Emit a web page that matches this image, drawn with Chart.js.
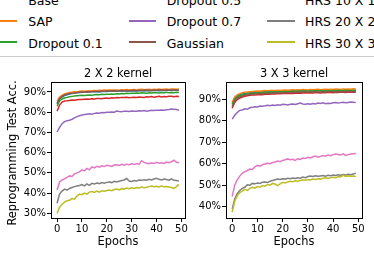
<!DOCTYPE html>
<html>
<head>
<meta charset="utf-8">
<script src="https://cdn.jsdelivr.net/npm/chart.js@4.4.1/dist/chart.umd.min.js"></script>
<style>
  html, body { margin: 0; padding: 0; background: #fff; }
  body { width: 374px; height: 257px; position: relative; overflow: hidden; font-family: "DejaVu Sans", sans-serif; }
  #legend { position: absolute; left: -8px; top: -20px; width: 400px; height: 75px; border: 1px solid #cccccc; border-radius: 3px; background: #fff; }
  .sw { position: absolute; height: 2px; }
  .lt { position: absolute; font-size: 12.5px; line-height: normal; color: #000; white-space: nowrap; }
  canvas { position: absolute; }
</style>
</head>
<body>
<div id="legend"></div>
<canvas id="c1" width="190" height="197" style="left:0px;top:60px;width:190px;height:197px"></canvas>
<canvas id="c2" width="184" height="197" style="left:190px;top:60px;width:184px;height:197px"></canvas>
<script>
// ---------------- data ----------------
const seriesNames = ["Base", "SAP", "Dropout 0.1", "Dropout 0.5", "Dropout 0.7", "Gaussian", "HRS 10 X 10", "HRS 20 X 20", "HRS 30 X 30"];
const seriesColors = ["#1f77b4", "#ff7f0e", "#2ca02c", "#d62728", "#9467bd", "#8c564b", "#e377c2", "#7f7f7f", "#bcbd22"];
const xTicks = [0, 10, 20, 30, 40, 50];
const yTicks2x2 = [30, 40, 50, 60, 70, 80, 90];
const yTicks3x3 = [40, 50, 60, 70, 80, 90];
const titles = ["2 X 2 kernel", "3 X 3 kernel"];
const xTitle = "Epochs";
const yTitle = "Reprogramming Test Acc.";

// 2 X 2 kernel
const k2_base = [84.0,86.5,87.5,88.2,88.6,89.0,89.2,89.4,89.6,89.7,89.8,89.9,90.0,89.9,90.1,90.1,90.2,90.0,90.2,90.3,90.2,90.3,90.4,90.3,90.4,90.5,90.4,90.5,90.6,90.4,90.5,90.6,90.5,90.6,90.7,90.5,90.6,90.7,90.6,90.8,90.7,90.6,90.8,90.7,90.8,90.9,90.7,90.8,90.9,90.8];
const k2_sap = [85.5,87.5,88.4,89.0,89.4,89.7,89.9,90.1,90.0,90.3,90.4,90.3,90.5,90.6,90.5,90.7,90.6,90.8,90.7,90.9,90.8,90.9,91.0,90.9,91.0,90.8,91.1,91.0,91.2,91.0,91.1,91.2,91.0,91.2,91.3,91.1,91.2,91.3,91.1,91.3,91.2,91.4,91.2,91.3,91.4,91.2,91.4,91.5,91.3,91.4];
const k2_do1 = [83.0,85.5,86.5,87.0,87.3,87.6,87.8,88.0,88.1,88.2,88.3,88.2,88.4,88.5,88.4,88.6,88.7,88.6,88.8,88.7,88.9,88.8,89.0,88.9,89.1,89.0,89.2,89.1,89.3,89.2,89.4,89.3,89.5,89.4,89.6,89.5,89.4,89.6,89.5,89.7,89.6,89.5,89.7,89.6,89.8,89.6,89.7,89.6,89.8,89.7];
const k2_do5 = [80.5,83.5,85.0,85.5,85.6,85.8,86.0,85.9,86.1,86.3,86.2,86.4,86.5,86.4,86.6,86.5,86.7,86.8,86.6,86.9,87.0,86.8,87.1,87.0,87.2,87.1,87.3,87.2,87.4,87.1,87.3,87.4,87.2,87.5,87.4,87.3,87.6,87.5,87.7,87.4,87.6,87.8,87.5,87.7,87.6,87.9,87.8,87.6,87.8,87.7];
const k2_do7 = [70.2,72.5,74.3,75.3,75.8,76.0,76.5,77.2,77.8,78.2,78.6,78.8,79.0,79.2,79.0,79.4,79.6,79.5,79.8,79.7,80.0,79.9,80.1,80.0,80.6,80.3,80.2,80.5,80.4,80.3,80.6,80.5,80.4,80.7,80.6,80.8,80.5,80.7,80.9,80.8,81.0,80.9,81.1,81.0,81.2,81.3,81.5,81.4,81.3,80.9];
const k2_gauss = [84.5,86.8,87.8,88.5,88.9,89.2,89.4,89.5,89.7,89.8,89.9,90.0,90.1,90.0,90.2,90.2,90.3,90.2,90.4,90.3,90.5,90.4,90.5,90.6,90.5,90.6,90.7,90.6,90.7,90.6,90.7,90.8,90.6,90.8,90.7,90.8,90.9,90.7,90.8,90.9,90.8,90.9,91.0,90.8,90.9,91.0,90.9,91.0,90.9,91.0];
const k2_hrs10 = [41.5,45.5,46.5,47.0,47.8,48.5,48.2,49.5,50.0,50.5,51.5,51.0,52.2,51.5,53.0,52.5,53.2,52.8,53.5,53.2,53.8,53.5,53.2,53.9,54.0,53.7,54.2,53.8,54.3,54.0,54.5,54.1,54.6,54.3,56.0,55.2,54.8,54.5,55.0,54.6,55.2,54.8,55.0,54.7,55.3,55.0,55.5,56.3,55.2,55.0];
const k2_hrs20 = [35.0,39.5,41.0,42.0,41.5,42.3,42.8,43.2,43.5,43.8,44.2,43.6,44.5,43.8,44.8,44.5,45.0,44.7,45.2,44.9,45.3,45.5,45.2,45.8,45.5,45.9,46.2,46.5,47.2,46.0,45.8,46.2,46.0,46.5,46.3,46.6,46.4,46.8,46.5,47.0,47.3,46.8,46.5,47.0,46.7,46.4,47.0,46.3,46.2,46.0];
const k2_hrs30 = [30.0,33.0,34.5,35.5,36.2,36.5,37.3,37.0,38.5,39.5,39.2,40.0,39.5,40.5,40.8,40.3,41.0,40.5,41.2,40.9,41.3,41.5,41.2,41.8,42.0,41.6,42.2,41.9,42.5,42.2,42.6,42.3,42.8,42.5,43.0,42.7,42.9,43.2,43.5,43.1,43.4,43.0,43.5,43.2,43.3,43.0,42.8,42.3,43.2,44.3];

// 3 X 3 kernel
const k3_base = [88.0,90.5,91.5,92.0,92.4,92.7,92.8,93.0,93.1,93.2,93.3,93.2,93.4,93.5,93.4,93.5,93.6,93.5,93.7,93.6,93.7,93.8,93.7,93.8,93.9,93.8,93.9,93.8,94.0,93.9,93.8,94.0,93.9,94.0,94.1,93.9,94.0,94.1,94.0,94.1,94.0,94.2,94.1,94.0,94.2,94.1,94.2,94.1,94.2,94.1];
const k3_sap = [88.5,91.0,92.0,92.6,93.0,93.2,93.4,93.5,93.6,93.7,93.8,93.7,93.9,94.0,93.9,94.0,94.1,94.0,94.2,94.1,94.2,94.3,94.2,94.3,94.4,94.3,94.4,94.3,94.5,94.4,94.3,94.5,94.4,94.5,94.6,94.4,94.5,94.6,94.5,94.6,94.5,94.7,94.6,94.5,94.7,94.6,94.7,94.6,94.8,94.7];
const k3_do1 = [87.5,90.0,91.0,91.6,92.0,92.3,92.5,92.6,92.8,92.9,93.0,93.1,93.0,93.2,93.3,93.2,93.4,93.3,93.5,93.4,93.5,93.6,93.5,93.6,93.7,93.6,93.7,93.8,93.7,93.8,93.7,93.9,93.8,93.9,93.8,94.0,93.9,93.8,94.0,93.9,94.0,93.9,94.1,94.0,93.9,94.1,94.0,94.1,94.0,94.1];
const k3_do5 = [85.8,88.5,89.8,90.5,91.0,91.3,91.6,91.8,91.9,92.0,92.1,92.2,92.1,92.3,92.4,92.3,92.5,92.4,92.6,92.5,92.6,92.7,92.6,92.8,92.7,92.8,92.9,92.8,92.9,93.0,92.9,93.0,92.9,93.1,93.0,92.9,93.1,93.0,93.2,93.1,93.0,93.2,93.1,93.3,93.2,93.1,93.3,93.2,93.3,93.2];
const k3_do7 = [80.7,82.5,83.8,84.8,85.0,85.5,85.3,86.0,86.2,86.5,86.4,86.8,86.7,86.9,87.2,87.0,87.3,87.1,87.4,87.2,87.6,87.5,87.3,87.6,87.8,87.5,87.9,88.2,87.8,87.6,87.9,87.7,88.0,87.8,88.2,88.0,88.3,87.9,88.1,88.0,88.3,88.5,88.2,88.4,88.6,88.3,88.5,88.7,88.6,88.4];
const k3_gauss = [86.5,89.2,90.4,91.0,91.5,91.8,92.0,92.2,92.3,92.4,92.5,92.6,92.5,92.7,92.8,92.7,92.9,92.8,93.0,92.9,93.0,93.1,93.0,93.2,93.1,93.2,93.3,93.2,93.3,93.4,93.3,93.4,93.3,93.5,93.4,93.3,93.5,93.4,93.5,93.6,93.5,93.4,93.6,93.5,93.6,93.5,93.7,93.6,93.5,93.6];
const k3_hrs10 = [44.7,50.0,52.5,54.2,55.5,56.3,56.8,57.5,57.3,58.5,59.2,58.8,59.5,59.8,60.2,60.0,60.5,60.8,61.2,60.9,61.5,61.8,62.2,61.8,62.0,61.5,62.3,62.0,62.6,62.4,63.0,62.7,63.2,63.5,63.0,63.4,63.8,63.5,64.0,63.7,64.2,64.5,64.3,64.0,64.6,63.8,64.2,64.5,64.6,64.7];
const k3_hrs20 = [38.8,43.5,46.0,47.5,48.5,49.0,50.2,50.0,50.8,50.6,51.0,50.8,51.3,51.5,51.2,51.8,52.2,52.5,52.8,52.6,53.0,52.8,53.2,53.0,53.3,53.1,53.4,53.2,53.8,53.5,54.0,54.2,54.0,54.4,54.1,54.3,54.5,54.2,54.6,54.4,54.7,54.5,54.8,54.6,54.9,54.7,55.0,54.8,55.2,55.6];
const k3_hrs30 = [37.4,42.5,45.0,46.5,47.2,48.0,47.5,48.5,49.0,48.6,49.3,49.0,49.8,49.5,50.3,50.0,50.8,50.5,49.8,50.6,51.3,51.0,51.5,51.8,51.6,52.0,51.8,52.2,52.5,52.3,52.6,52.4,52.8,52.6,53.0,52.8,53.2,53.4,53.1,53.5,53.7,53.4,54.0,53.8,54.6,54.0,54.3,54.1,54.2,54.0];

const k2Series = [k2_base, k2_sap, k2_do1, k2_do5, k2_do7, k2_gauss, k2_hrs10, k2_hrs20, k2_hrs30];
const k3Series = [k3_base, k3_sap, k3_do1, k3_do5, k3_do7, k3_gauss, k3_hrs10, k3_hrs20, k3_hrs30];

// ---------------- legend (HTML) ----------------
(function buildLegend() {
  const lg = document.getElementById('legend');
  const colX = [[-10, 17, 28.3], [129.3, 156.3, 166.7], [267.3, 295, 305]];
  const rowMid = [-1, 20.7, 42.3];
  const rowBase = [4.7, 26, 47.6];
  const offL = -8, offT = -20;
  seriesNames.forEach((name, i) => {
    const c = Math.floor(i / 3), r = i % 3;
    const sw = document.createElement('div');
    sw.className = 'sw';
    sw.style.left = (colX[c][0] - offL - 1) + 'px';
    sw.style.width = (colX[c][1] - colX[c][0]) + 'px';
    sw.style.top = (rowMid[r] - 1 - offT - 1) + 'px';
    sw.style.background = seriesColors[i];
    lg.appendChild(sw);
    const t = document.createElement('div');
    t.className = 'lt';
    t.textContent = name;
    t.style.left = (colX[c][2] - offL - 1) + 'px';
    t.style.top = (rowBase[r] - 11.6 - offT - 1) + 'px';
    lg.appendChild(t);
  });
})();

// ---------------- charts ----------------
const FONT = "DejaVu Sans";
const boxPlugin = {
  id: 'boxAndTitles',
  afterDraw(chart, args, opts) {
    const ctx = chart.ctx, a = chart.chartArea;
    ctx.save();
    ctx.strokeStyle = '#000';
    ctx.lineWidth = 1;
    ctx.strokeRect(Math.round(a.left) + 0.5, Math.round(a.top) + 0.5, Math.round(a.right - a.left), Math.round(a.bottom - a.top));
    ctx.fillStyle = '#000';
    ctx.font = '11.4px "' + FONT + '"';
    ctx.textAlign = 'center';
    ctx.textBaseline = 'middle';
    const cx = (a.left + a.right) / 2;
    ctx.fillText(opts.title, cx, a.top - 8);
    ctx.fillText(xTitle, cx, a.bottom + 24);
    if (opts.yTitle) {
      ctx.translate(13, (a.top + a.bottom) / 2 + 3);
      ctx.rotate(-Math.PI / 2);
      ctx.fillText(opts.yTitle, 0, 0);
    }
    ctx.restore();
  }
};

function makeChart(id, series, yTicks, yMin, yMax, yWidth, padRight, title, showYTitle) {
  const datasets = series.map((vals, i) => ({
    label: seriesNames[i],
    data: vals.map((v, k) => ({ x: k, y: v })),
    borderColor: seriesColors[i],
    backgroundColor: seriesColors[i],
    borderWidth: 1.5,
    pointRadius: 0,
    tension: 0,
    fill: false,
    order: series.length - i
  }));
  return new Chart(document.getElementById(id), {
    type: 'line',
    data: { datasets },
    plugins: [boxPlugin],
    options: {
      responsive: false,
      animation: false,
      devicePixelRatio: 1,
      layout: { padding: { top: 22, right: padRight, left: 0, bottom: 0 } },
      plugins: {
        legend: { display: false },
        tooltip: { enabled: false },
        title: { display: false },
        boxAndTitles: { title: title, yTitle: showYTitle ? yTitle : null }
      },
      scales: {
        x: {
          type: 'linear',
          min: -2.45,
          max: 51.45,
          afterBuildTicks: s => { s.ticks = xTicks.map(v => ({ value: v })); },
          afterFit: s => { s.height = 39; },
          ticks: { color: '#000', font: { family: FONT, size: 10 }, padding: 1, maxRotation: 0, autoSkip: false, callback: v => String(v) },
          grid: { display: true, drawOnChartArea: false, drawTicks: true, tickLength: 4, color: '#000', lineWidth: 1 },
          border: { display: false }
        },
        y: {
          type: 'linear',
          min: yMin,
          max: yMax,
          afterBuildTicks: s => { s.ticks = yTicks.map(v => ({ value: v })); },
          afterFit: s => { s.width = yWidth; },
          ticks: { color: '#000', font: { family: FONT, size: 10 }, padding: 1, autoSkip: false, callback: v => v + '%' },
          grid: { display: true, drawOnChartArea: false, drawTicks: true, tickLength: 4, color: '#000', lineWidth: 1 },
          border: { display: false }
        }
      }
    }
  });
}

makeChart('c1', k2Series, yTicks2x2, 27.7, 94.9, 51, 5, titles[0], true);
makeChart('c2', k3Series, yTicks3x3, 34.7, 98.0, 36, 12, titles[1], false);
</script>
</body>
</html>
